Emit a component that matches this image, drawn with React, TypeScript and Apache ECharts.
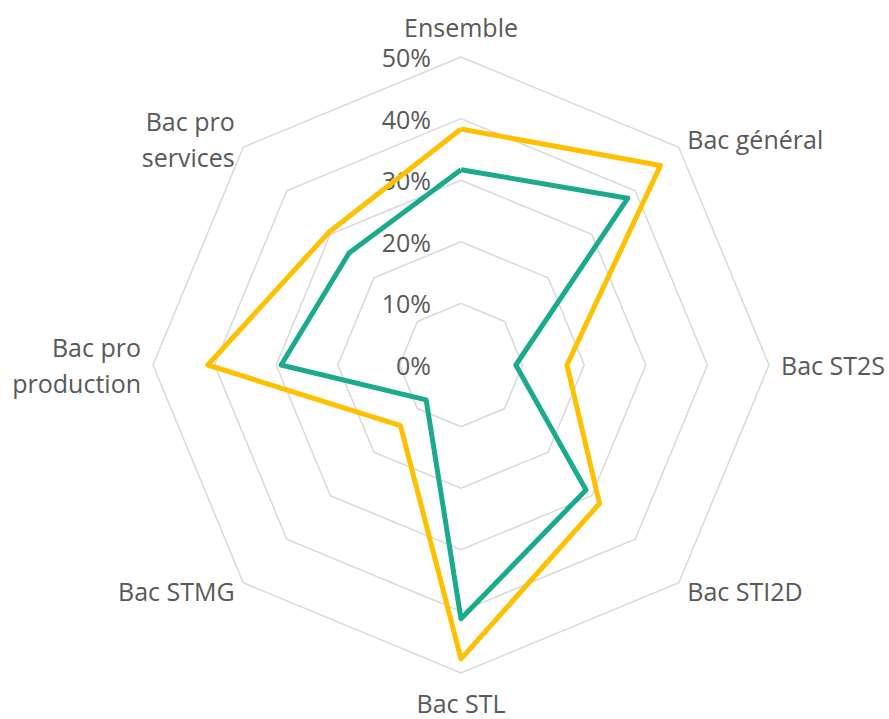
import React, { useEffect, useRef } from 'react';
import * as echarts from 'echarts';

const categories = ['Ensemble', 'Bac général', 'Bac ST2S', 'Bac STI2D', 'Bac STL', 'Bac STMG', 'Bac pro\nproduction', 'Bac pro\nservices'];
const seriesOrange = [38.3, 45.8, 17.2, 31.8, 47.7, 13.9, 41.1, 30.4];
const seriesTeal = [31.7, 38.3, 8.9, 28.7, 41.2, 8.0, 29.2, 25.7];
const tickMin = 0;
const tickMax = 50;
const tickStep = 10;

// ECharts places radar indicators counter-clockwise; reorder to read clockwise
const order = [0, 7, 6, 5, 4, 3, 2, 1];

export default function App() {
  const ref = useRef<HTMLDivElement>(null);
  useEffect(() => {
    if (!ref.current) return;
    const chart = echarts.init(ref.current, null, { renderer: 'svg' });
    const font = '"Open Sans", sans-serif';
    const txt = '#595959';
    chart.setOption({
      animation: false,
      backgroundColor: '#ffffff',
      radar: {
        center: [461, 365],
        radius: 308,
        startAngle: 90,
        shape: 'polygon',
        splitNumber: 5,
        indicator: order.map((i) => ({ name: categories[i], min: tickMin, max: tickMax })),
        axisName: { color: txt, fontSize: 25, fontFamily: font, lineHeight: 36 },
        nameGap: 12,
        axisLine: { show: false },
        axisTick: { show: false },
        axisLabel: { show: false },
        splitLine: { lineStyle: { color: '#d9d9d9', width: 1.5 } },
        splitArea: { show: false },
      },
      polar: { center: [461, 365], radius: 308 },
      angleAxis: { show: false, startAngle: 90, min: 0, max: 360 },
      radiusAxis: {
        min: tickMin,
        max: tickMax,
        interval: tickStep,
        axisLine: { show: false },
        axisTick: { show: false },
        splitLine: { show: false },
        axisLabel: { formatter: '{value}%', color: txt, fontSize: 25, fontFamily: font, margin: 30 },
      },
      series: [
        {
          type: 'radar',
          symbol: 'none',
          lineStyle: { width: 5, color: '#FFC000' },
          data: [{ value: order.map((i) => seriesOrange[i]) }],
          z: 2,
        },
        {
          type: 'radar',
          symbol: 'none',
          lineStyle: { width: 5, color: '#1BAA8C' },
          data: [{ value: order.map((i) => seriesTeal[i]) }],
          z: 3,
        },
      ],
    });
    return () => chart.dispose();
  }, []);
  return <div ref={ref} style={{ position: 'fixed', left: 0, top: 0, width: 889, height: 719 }} />;
}
